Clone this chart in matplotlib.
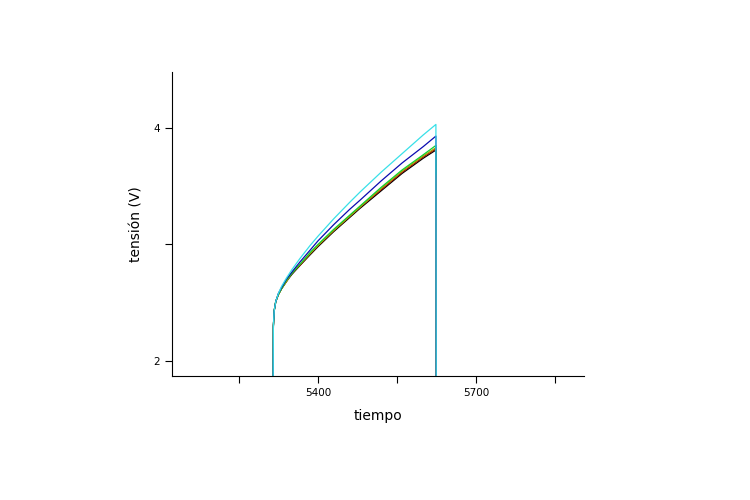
import matplotlib
matplotlib.use("Agg")
import matplotlib.pyplot as plt

# time points shared by all runs
tiempo = [5315, 5315.5, 5317, 5320, 5325, 5331, 5340, 5350, 5366, 5385,
          5400, 5430, 5460, 5480, 5520, 5560, 5600, 5624, 5624.5]

# voltage per run
v_negro = [1.80, 2.30, 2.43, 2.51, 2.57, 2.62, 2.68, 2.74, 2.82, 2.91,
           2.98, 3.11, 3.23, 3.31, 3.46, 3.61, 3.74, 3.81, 1.80]
v_rojo = [1.80, 2.30, 2.43, 2.51, 2.57, 2.62, 2.68, 2.75, 2.82, 2.92,
          2.99, 3.12, 3.24, 3.32, 3.47, 3.62, 3.75, 3.82, 1.80]
v_oliva = [1.80, 2.30, 2.43, 2.51, 2.57, 2.62, 2.68, 2.75, 2.83, 2.92,
           2.99, 3.12, 3.24, 3.32, 3.48, 3.63, 3.76, 3.83, 1.80]
v_verde = [1.80, 2.30, 2.43, 2.51, 2.57, 2.62, 2.69, 2.75, 2.83, 2.93,
           3.00, 3.13, 3.25, 3.33, 3.49, 3.64, 3.77, 3.85, 3.60]
v_azul = [1.80, 2.30, 2.43, 2.51, 2.58, 2.63, 2.70, 2.76, 2.85, 2.95,
          3.03, 3.17, 3.30, 3.38, 3.545, 3.70, 3.84, 3.93, 1.80]
v_cian = [1.80, 2.30, 2.43, 2.51, 2.58, 2.64, 2.71, 2.78, 2.88, 2.99,
          3.07, 3.22, 3.36, 3.45, 3.62, 3.78, 3.94, 4.03, 1.80]

x_major = [5400, 5700]
x_minor = [5250, 5550, 5850]
y_major = [2, 4]
y_minor = [3]

fig = plt.figure(figsize=(7.5, 5), dpi=100)
ax = fig.add_axes([0.2293, 0.248, 0.5493, 0.608])

ax.plot(tiempo, v_negro, color="black", lw=0.9)
ax.plot(tiempo, v_rojo, color="#a01800", lw=0.9)
ax.plot(tiempo, v_oliva, color="#b0a000", lw=0.9)
ax.plot(tiempo, v_verde, color="#10d030", lw=0.9)
ax.plot(tiempo, v_azul, color="#0a0ab0", lw=0.9)
ax.plot(tiempo, v_cian, color="#38e0e8", lw=0.9)

ax.set_xlim(5123, 5905)
ax.set_ylim(1.871, 4.48)
ax.set_xticks(x_major)
ax.set_xticks(x_minor, minor=True)
ax.set_yticks(y_major)
ax.set_yticks(y_minor, minor=True)
ax.tick_params(which="both", direction="out", length=5, width=0.8, labelsize=7.5)

ax.spines["top"].set_visible(False)
ax.spines["right"].set_visible(False)

ax.set_xlabel("tiempo", fontsize=10, labelpad=8)
ax.set_ylabel("tensión (V)", fontsize=10, labelpad=7)

fig.savefig("out.png", dpi=100)
